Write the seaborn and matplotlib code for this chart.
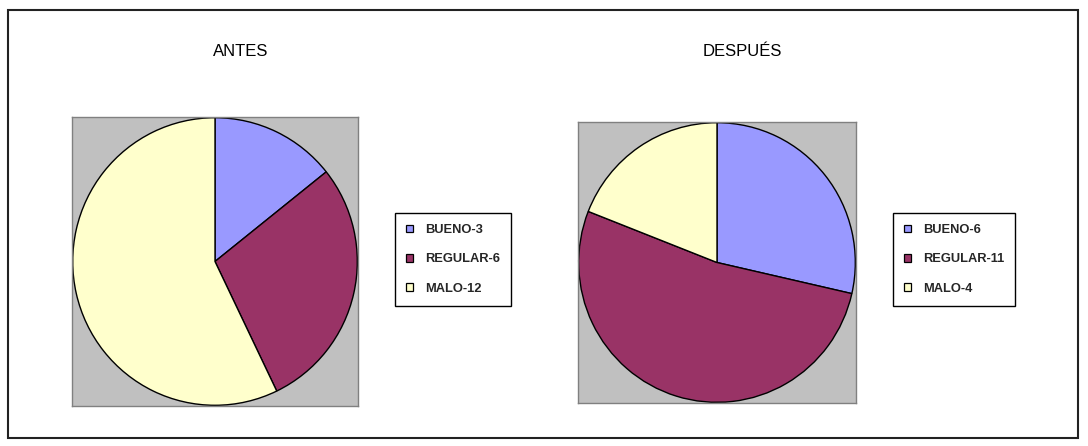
import matplotlib
matplotlib.use("Agg")
import matplotlib.pyplot as plt
import seaborn as sns
from matplotlib.patches import Rectangle, Patch

sns.set_theme(style="white")
plt.rcParams['font.family'] = ['Liberation Sans', 'DejaVu Sans']

categories = ["BUENO", "REGULAR", "MALO"]
antes_values = [3, 6, 12]
despues_values = [6, 11, 4]
titles = ["ANTES", "DESPUÉS"]
colors = ["#9999FF", "#993366", "#FFFFCC"]

W, H = 1088, 446
fig = plt.figure(figsize=(W / 100, H / 100), dpi=100)
fig.patch.set_facecolor("white")

def box(x0, y0, x1, y1):
    return [x0 / W, 1 - y1 / H, (x1 - x0) / W, (y1 - y0) / H]

# outer frame
fig.patches.append(Rectangle((8 / W, 1 - 438 / H), 1070 / W, 428 / H,
                             transform=fig.transFigure, fill=False,
                             edgecolor="#222222", linewidth=1.5))

panels = [
    (antes_values, box(72, 117, 358, 406), 241, 395),
    (despues_values, box(578, 122, 856, 403), 742, 893),
]

for (vals, pos, tx, lx), title in zip(panels, titles):
    ax = fig.add_axes(pos)
    ax.pie(vals, colors=colors, startangle=90, counterclock=False,
           radius=1.0, wedgeprops=dict(edgecolor="black", linewidth=1.0))
    ax.set_frame_on(True)
    ax.set_aspect("auto")
    ax.set_xlim(-1.005, 1.005)
    ax.set_ylim(-1.005, 1.005)
    ax.set_facecolor("#C0C0C0")
    for s in ax.spines.values():
        s.set_visible(True)
        s.set_color("#808080")
        s.set_linewidth(1.0)
    ax.set_xticks([])
    ax.set_yticks([])
    fig.text(tx / W, 1 - 51 / H, title, ha="center", va="center",
             fontsize=12, color="black")
    labels = [f"{c}-{v}" for c, v in zip(categories, vals)]
    handles = [Patch(facecolor=c, edgecolor="black", linewidth=0.9) for c in colors]
    leg = fig.legend(handles, labels, loc="upper left",
                     bbox_to_anchor=(lx / W, 1 - 213 / H),
                     borderaxespad=0, frameon=True, fancybox=False,
                     edgecolor="black", framealpha=1,
                     handlelength=0.55, handleheight=0.55, handletextpad=0.9,
                     labelspacing=1.35, borderpad=0.85,
                     prop=dict(family="Liberation Sans", weight="bold", size=9.3))
    leg.get_frame().set_linewidth(1.0)

fig.savefig("out.png", dpi=100)
